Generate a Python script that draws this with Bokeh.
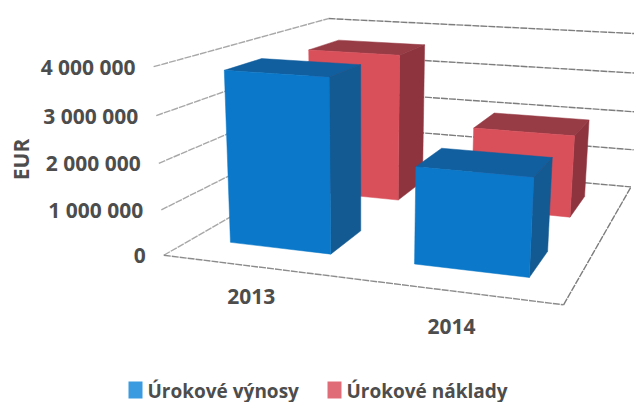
import numpy as np
from bokeh.plotting import figure
from bokeh.models import Range1d
from bokeh.core.properties import value
from bokeh.embed import file_html
from bokeh.resources import INLINE

categories = ["2013", "2014"]
series_names = ["Úrokové výnosy", "Úrokové náklady"]
urokove_vynosy = [3790000, 2080000]
urokove_naklady = [3620000, 1980000]
tick_values = [0, 1000000, 2000000, 3000000, 4000000]
tick_labels = ["0", "1 000 000", "2 000 000", "3 000 000", "4 000 000"]
axis_title = "EUR"
axis_max = 4000000

# camera calibration: (across, depth, height) -> page pixel, with a weight
anchors = [((0, 0, 0), (163, 254), 3), ((1, 0, 0), (567, 304), 1), ((1, 1, 0), (629, 188), 1),
           ((0, 1, 0), (330, 163), 1), ((0, 0, 1), (153, 67), 3), ((0, 1, 1), (330, 14), 1),
           ((1, 1, 1), (640, 32), 1)]
A, B = [], []
for (u, v, w), (x, y), k in anchors:
    A.append([k*c for c in [u, v, w, 1, 0, 0, 0, 0, -x*u, -x*v, -x*w]]); B.append(k*x)
    A.append([k*c for c in [0, 0, 0, 0, u, v, w, 1, -y*u, -y*v, -y*w]]); B.append(k*y)
s = np.linalg.lstsq(np.array(A, float), np.array(B, float), rcond=None)[0]


def project(u, v, val):
    w = val / axis_max
    d = s[8]*u + s[9]*v + s[10]*w + 1
    return ((s[0]*u + s[1]*v + s[2]*w + s[3]) / d, (s[4]*u + s[5]*v + s[6]*w + s[7]) / d)


p = figure(width=634, height=402, output_backend="svg", toolbar_location=None,
           x_range=Range1d(0, 634), y_range=Range1d(402, 0), min_border=0,
           outline_line_color=None, background_fill_color="white", border_fill_color="white")
p.xaxis.visible = False
p.yaxis.visible = False
p.grid.visible = False


def seg(a, b, col):
    xa, ya = project(*a)
    xb, yb = project(*b)
    p.line([xa, xb], [ya, yb], line_color=col, line_width=1.4, line_dash="7 1")


for t in tick_values:
    seg((0, 0, t), (0, 1, t), "#a8a8a8")
    seg((0, 1, t), (1, 1, t), "#7d7d7d")
seg((0, 0, 0), (1, 0, 0), "#8c8c8c")
seg((1, 0, 0), (1, 1, 0), "#7d7d7d")

BAR_U = {(0, 0): (0.106, 0.384), (1, 0): (0.604, 0.889), (0, 1): (0.10, 0.378), (1, 1): (0.60, 0.885)}
V_SPAN = [(0.14, 0.335), (0.635, 0.85)]


def bar(cat_i, ser_i, val, front, top, side):
    u0, u1 = BAR_U[(cat_i, ser_i)]
    v0, v1 = V_SPAN[ser_i]
    faces = [
        ([(u0, v0, val), (u1, v0, val), (u1, v1, val), (u0, v1, val)], top),
        ([(u1, v0, 0), (u1, v1, 0), (u1, v1, val), (u1, v0, val)], side),
        ([(u0, v0, 0), (u1, v0, 0), (u1, v0, val), (u0, v0, val)], front),
    ]
    for pts, col in faces:
        xy = [project(*q) for q in pts]
        p.patch([c[0] for c in xy], [c[1] for c in xy], fill_color=col, line_color=col, line_width=0.5)


for i in range(2):
    bar(i, 1, urokove_naklady[i], "#d9505b", "#973b45", "#8e343e")
for i in range(2):
    bar(i, 0, urokove_vynosy[i], "#0b78c9", "#125f9f", "#135a92")

FONT = value("Open Sans")
TXT = "#4d4d4d"
for t, lab in zip(tick_values, tick_labels):
    x, y = project(0, 0, t)
    p.text([x - 18], [y], text=[lab], text_font=FONT, text_font_size="21px", text_font_style="bold",
           text_color=TXT, text_align="right", text_baseline="middle")
LABEL_DY = [30, 36]
for i, c in enumerate(categories):
    x, y = project(sum(BAR_U[(i, 1)]) / 2, 0, 0)
    p.text([x], [y + LABEL_DY[i]], text=[c], text_font=FONT, text_font_size="21px", text_font_style="bold",
           text_color=TXT, text_align="center", text_baseline="middle")
p.text([20], [159], text=[axis_title], text_font=FONT, text_font_size="21px", text_font_style="bold",
       text_color=TXT, text_align="center", text_baseline="middle", angle=np.pi/2)

legend_colors = ["#3a9be0", "#e06c78"]
legend_x = [128, 327]
for name, col, lx in zip(series_names, legend_colors, legend_x):
    p.quad(left=[lx], right=[lx + 14], top=[381], bottom=[398], fill_color=col, line_color=None)
    p.text([lx + 19], [390], text=[name], text_font=FONT, text_font_size="19px", text_font_style="bold",
           text_color=TXT, text_align="left", text_baseline="middle")

open("out.html", "w").write(file_html(p, INLINE))
